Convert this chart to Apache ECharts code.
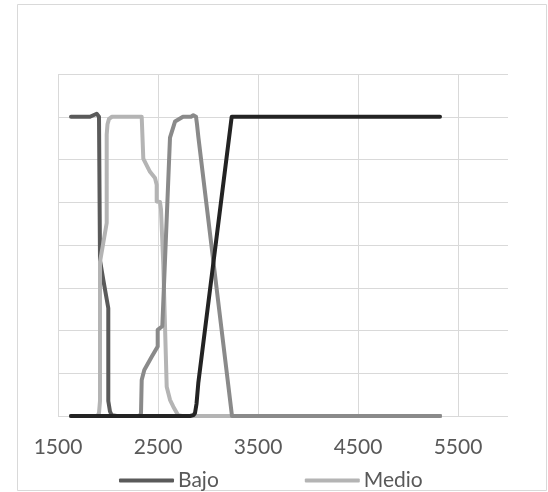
<!DOCTYPE html>
<html>
<head>
<meta charset="utf-8">
<script src="https://cdn.jsdelivr.net/npm/echarts@6/dist/echarts.min.js"></script>
<style>
  html, body { margin: 0; padding: 0; background: #ffffff; }
  #chart { width: 548px; height: 492px; }
</style>
</head>
<body>
<div id="chart"></div>
<script>
// Membership curves (x: value on the horizontal scale, y: degree 0..1)
const bajoX  = [1630, 1820, 1887, 1910, 1920, 1920, 1953, 2003, 2003, 2020, 2037, 2087, 5320];
const bajoY  = [1, 1, 1.01, 1, 0.995, 0.52, 0.455, 0.36, 0.05, 0.015, 0.003, 0, 0];

const medioX = [1630, 1895, 1910, 1920, 1920, 1987, 1987, 1995, 2010, 2040, 2337, 2345, 2353, 2420, 2470, 2487, 2487, 2520, 2530, 2553, 2587, 2620, 2653, 2700, 2740, 5320];
const medioY = [0, 0, 0.01, 0.05, 0.515, 0.645, 0.94, 0.975, 0.993, 1, 1, 0.93, 0.86, 0.816, 0.795, 0.773, 0.717, 0.715, 0.69, 0.505, 0.098, 0.054, 0.031, 0.003, 0, 0];

const altoX  = [1630, 2320, 2330, 2337, 2363, 2437, 2497, 2497, 2543, 2570, 2620, 2670, 2750, 2830, 2853, 2880, 2890, 2903, 3240, 5320];
const altoY  = [0, 0, 0.01, 0.12, 0.154, 0.198, 0.232, 0.288, 0.30, 0.52, 0.93, 0.984, 1, 1, 1.005, 1, 0.975, 0.934, 0, 0];

const muyAltoX = [1630, 2820, 2855, 2870, 2885, 2903, 3237, 5320];
const muyAltoY = [0, 0, 0.003, 0.01, 0.04, 0.11, 1, 1];

const seriesNames  = ['Bajo', 'Medio', 'Alto', 'Muy alto'];
const legendNames  = ['Bajo', 'Medio'];
const seriesColors = ['#5a5a5a', '#b4b4b4', '#8a8a8a', '#232323'];

const xMin = 1500, xMax = 6000, xStep = 1000;
const yMax = 8 / 7, yStep = 1 / 7;

function pairs(xs, ys) { return xs.map((x, i) => [x, ys[i]]); }
const seriesData = [pairs(bajoX, bajoY), pairs(medioX, medioY), pairs(altoX, altoY), pairs(muyAltoX, muyAltoY)];

const FONT = 'Lato';
const chart = echarts.init(document.getElementById('chart'), null, { renderer: 'canvas' });

chart.setOption({
  backgroundColor: '#ffffff',
  animation: false,
  textStyle: { fontFamily: FONT },
  graphic: [{
    type: 'rect',
    shape: { x: 17.5, y: 4.5, width: 529, height: 486 },
    style: { fill: 'none', stroke: '#d9d9d9', lineWidth: 1 },
    silent: true
  }],
  grid: { left: 58, right: 40, top: 74, bottom: 76, containLabel: false },
  legend: {
    data: legendNames,
    left: 114,
    top: 465,
    icon: 'roundRect',
    itemWidth: 55,
    itemHeight: 4,
    itemGap: 86,
    textStyle: { fontFamily: FONT, fontSize: 21, color: '#595959', padding: [0, 0, 0, -1] }
  },
  xAxis: {
    type: 'value',
    min: xMin,
    max: xMax,
    interval: xStep,
    axisLine: { show: false },
    axisTick: { show: false },
    axisLabel: {
      fontFamily: FONT, fontSize: 21, color: '#595959', margin: 21, showMaxLabel: false,
      formatter: v => String(v)
    },
    splitLine: { show: true, showMaxLine: false, lineStyle: { color: '#d9d9d9', width: 1 } }
  },
  yAxis: {
    type: 'value',
    min: 0,
    max: yMax,
    interval: yStep,
    axisLine: { show: false },
    axisTick: { show: false },
    axisLabel: { show: false },
    splitLine: { show: true, lineStyle: { color: '#d9d9d9', width: 1 } }
  },
  series: seriesNames.map((name, i) => ({
    name: name,
    type: 'line',
    data: seriesData[i],
    symbol: 'none',
    smooth: false,
    color: seriesColors[i],
    lineStyle: { color: seriesColors[i], width: 4, cap: 'round', join: 'round' },
    z: 2 + i
  }))
});
</script>
</body>
</html>
